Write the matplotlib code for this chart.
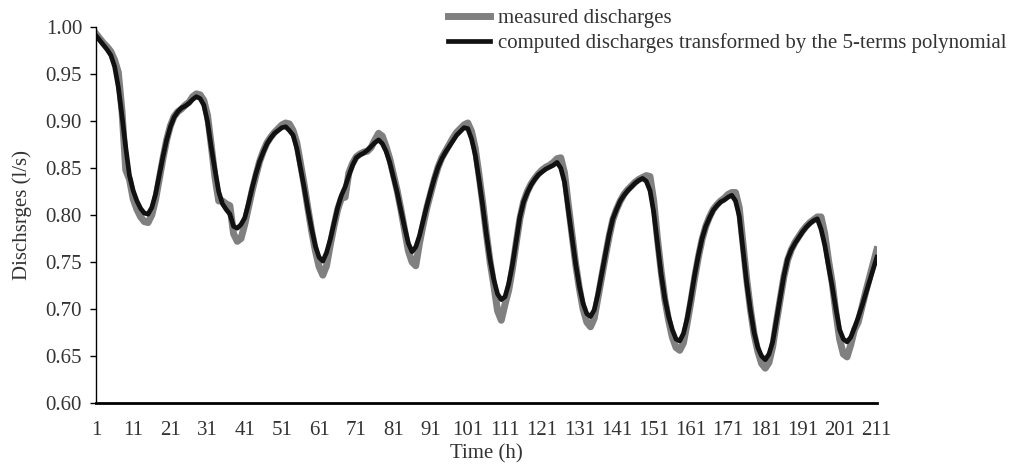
import matplotlib
matplotlib.use("Agg")
import matplotlib.pyplot as plt

plt.rcParams['font.family'] = ['Liberation Serif', 'DejaVu Serif']

# hourly readings
hours = list(range(1, 212))

measured = [
    0.993, 0.988, 0.983, 0.979, 0.974, 0.965, 0.952, 0.910, 0.848, 0.838,
    0.817, 0.806, 0.798, 0.793, 0.792, 0.800, 0.816, 0.838, 0.860, 0.880,
    0.895, 0.905, 0.910, 0.913, 0.917, 0.920, 0.926, 0.929, 0.928, 0.922,
    0.906, 0.874, 0.840, 0.815, 0.815, 0.812, 0.810, 0.780, 0.772, 0.775,
    0.790, 0.808, 0.826, 0.842, 0.857, 0.868, 0.877, 0.883, 0.888, 0.892,
    0.896, 0.898, 0.897, 0.890, 0.877, 0.855, 0.832, 0.807, 0.783, 0.762,
    0.745, 0.736, 0.746, 0.768, 0.788, 0.806, 0.818, 0.819, 0.845, 0.855,
    0.862, 0.865, 0.867, 0.868, 0.872, 0.880, 0.887, 0.884, 0.873, 0.860,
    0.843, 0.826, 0.806, 0.784, 0.762, 0.750, 0.746, 0.770, 0.790, 0.808,
    0.823, 0.838, 0.851, 0.861, 0.868, 0.875, 0.882, 0.888, 0.892, 0.896,
    0.898, 0.889, 0.871, 0.843, 0.813, 0.780, 0.750, 0.725, 0.698, 0.688,
    0.705, 0.720, 0.743, 0.770, 0.796, 0.814, 0.825, 0.833, 0.839, 0.844,
    0.848, 0.851, 0.853, 0.856, 0.860, 0.861, 0.845, 0.812, 0.780, 0.748,
    0.722, 0.700, 0.686, 0.681, 0.690, 0.712, 0.734, 0.756, 0.777, 0.795,
    0.806, 0.815, 0.822, 0.827, 0.831, 0.835, 0.838, 0.840, 0.842, 0.841,
    0.815, 0.775, 0.740, 0.710, 0.688, 0.670, 0.659, 0.656, 0.664, 0.685,
    0.708, 0.733, 0.755, 0.774, 0.788, 0.798, 0.806, 0.811, 0.815, 0.818,
    0.822, 0.824, 0.824, 0.808, 0.770, 0.732, 0.700, 0.673, 0.655, 0.642,
    0.637, 0.643, 0.660, 0.686, 0.710, 0.734, 0.752, 0.763, 0.771, 0.777,
    0.783, 0.788, 0.792, 0.795, 0.798, 0.798, 0.780, 0.752, 0.728, 0.696,
    0.668, 0.652, 0.649, 0.662, 0.678, 0.686, 0.702, 0.718, 0.733, 0.748,
    0.763,
]

computed = [
    0.991, 0.986, 0.981, 0.976, 0.970, 0.958, 0.936, 0.905, 0.872, 0.842,
    0.826, 0.815, 0.807, 0.802, 0.801, 0.808, 0.822, 0.842, 0.862, 0.880,
    0.894, 0.904, 0.910, 0.914, 0.916, 0.919, 0.923, 0.926, 0.924, 0.917,
    0.899, 0.872, 0.848, 0.825, 0.812, 0.806, 0.801, 0.788, 0.786, 0.790,
    0.797, 0.812, 0.829, 0.844, 0.857, 0.867, 0.876, 0.882, 0.887, 0.890,
    0.893, 0.894, 0.890, 0.885, 0.871, 0.850, 0.829, 0.806, 0.785, 0.767,
    0.755, 0.751, 0.760, 0.774, 0.791, 0.808, 0.821, 0.830, 0.842, 0.853,
    0.861, 0.864, 0.866, 0.869, 0.873, 0.877, 0.880, 0.876, 0.868, 0.856,
    0.840, 0.824, 0.805, 0.787, 0.770, 0.761, 0.766, 0.778, 0.794, 0.810,
    0.825, 0.839, 0.851, 0.860, 0.867, 0.873, 0.879, 0.885, 0.889, 0.893,
    0.892, 0.881, 0.864, 0.838, 0.810, 0.779, 0.752, 0.731, 0.716, 0.710,
    0.713, 0.727, 0.747, 0.772, 0.798, 0.814, 0.824, 0.832, 0.838, 0.843,
    0.846, 0.849, 0.851, 0.853, 0.856, 0.850, 0.835, 0.806, 0.777, 0.748,
    0.724, 0.706, 0.695, 0.692, 0.699, 0.716, 0.737, 0.758, 0.779, 0.796,
    0.806, 0.815, 0.821, 0.826, 0.830, 0.834, 0.837, 0.839, 0.836, 0.826,
    0.803, 0.770, 0.737, 0.711, 0.692, 0.678, 0.668, 0.666, 0.674, 0.690,
    0.712, 0.736, 0.757, 0.775, 0.788, 0.797, 0.805, 0.810, 0.814, 0.816,
    0.819, 0.821, 0.815, 0.799, 0.764, 0.728, 0.699, 0.675, 0.659, 0.650,
    0.646, 0.652, 0.665, 0.688, 0.712, 0.735, 0.753, 0.763, 0.770, 0.776,
    0.782, 0.787, 0.791, 0.794, 0.796, 0.785, 0.768, 0.746, 0.724, 0.700,
    0.678, 0.668, 0.665, 0.670, 0.680, 0.691, 0.703, 0.716, 0.729, 0.742,
    0.755,
]

x_ticks = list(range(1, 212, 10))
y_ticks = [0.60, 0.65, 0.70, 0.75, 0.80, 0.85, 0.90, 0.95, 1.00]

text_color = "#333333"
fs = 15

fig = plt.figure(figsize=(10.16, 4.68), dpi=100)
ax = fig.add_axes([0.0945, 0.139, 0.7685, 0.803])

ax.plot(hours, measured, color="#808080", lw=5.0, solid_joinstyle="round",
        label="measured discharges")
ax.plot(hours, computed, color="#111111", lw=3.4, solid_joinstyle="round",
        label="computed discharges transformed by the 5-terms polynomial")

ax.set_xlim(1, 211)
ax.set_ylim(0.60, 1.00)
ax.set_xticks(x_ticks)
ax.set_yticks(y_ticks)
ax.set_yticklabels([f"{v:.2f}" for v in y_ticks])

ax.spines["top"].set_visible(False)
ax.spines["right"].set_visible(False)
ax.spines["left"].set_linewidth(1.0)
ax.spines["bottom"].set_linewidth(2.0)
ax.tick_params(axis="x", length=0, pad=13, labelsize=fs, labelcolor=text_color)
ax.tick_params(axis="y", length=4, width=1.0, pad=6, labelsize=fs,
               labelcolor=text_color)

ax.set_xlabel("Time (h)", fontsize=fs, color=text_color, labelpad=3)
ax.set_ylabel("Dischsrges (l/s)", fontsize=fs, color=text_color, labelpad=10)

fig.legend(loc="upper left", bbox_to_anchor=(0.441, 0.982), frameon=False,
           fontsize=fs, handlelength=2.0, handletextpad=0.38,
           labelspacing=0.24, borderpad=0.0, borderaxespad=0.0,
           labelcolor=text_color)

fig.savefig("out.png", dpi=100)
